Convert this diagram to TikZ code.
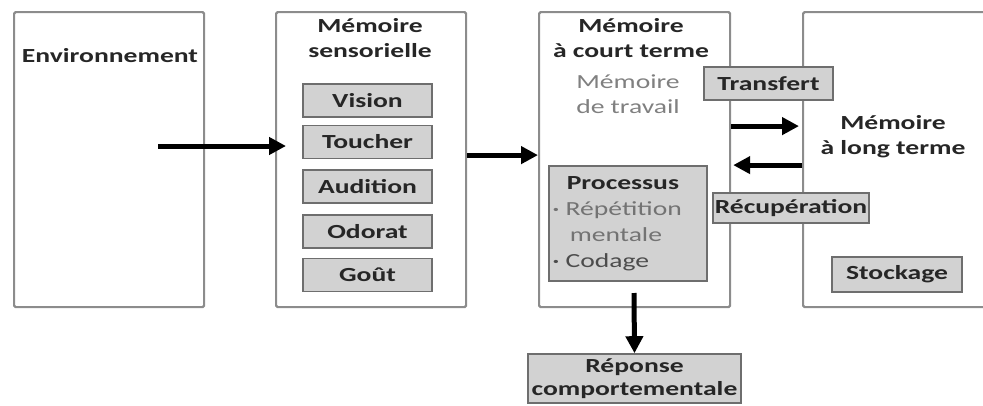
\documentclass[tikz,border=0pt]{standalone}
\usepackage{fontspec}
\setmainfont{Carlito}[FakeStretch=1.38]
\usetikzlibrary{arrows.meta}

\newcommand\txt{\fontsize{20}{25}\selectfont}
\newcommand\puce{\raisebox{3pt}{\fontsize{9}{9}\selectfont\textbullet}}
\definecolor{cadre}{HTML}{8C8C8C}
\definecolor{bord}{HTML}{6E6E6E}
\definecolor{fond}{HTML}{D2D2D2}

\tikzset{
  panel/.style={draw=cadre, line width=2.2pt, rounded corners=1.5pt, anchor=north west,
    minimum width=190pt, minimum height=295pt, inner sep=0pt},
  grisbox/.style={draw=bord, fill=fond, line width=1.6pt, minimum height=33pt,
    inner sep=0pt, font=\txt\bfseries, text=black!85},
  titre/.style={font=\txt\bfseries, align=center, text=black!85, inner sep=0pt},
  fleche/.style={line width=5pt, -{Triangle[length=17pt,width=17pt]}},
}

\begin{document}
\begin{tikzpicture}[x=1pt,y=-1pt]
\useasboundingbox (0,0) rectangle (983,405);
% panneaux
\node[panel] (env) at (13,11) {};
\node[panel] (sens) at (275,11) {};
\node[panel, minimum width=191pt] (mct) at (538,11) {};
\node[panel, minimum width=230pt] (mlt) at (802,11) {};

% titres
\node[titre] (envtxt) at (110,56) {Environnement};
\node[titre] (senstxt) at (370,38) {Mémoire\\sensorielle};
\node[titre] (mcttxt) at (631,38) {Mémoire\\à court terme};
\node[titre, font=\txt, text=gray] (travail) at (628,94) {Mémoire\\de travail};
\node[titre] (mlttxt) at (893,137) {Mémoire\\à long terme};

% sens
\foreach \nom/\y [count=\i] in {Vision/100.5, Toucher/142, Audition/186.5, Odorat/231.5, Goût/275}
  \node[grisbox, minimum width=129pt] (s\i) at (367.5,\y) {\nom};

% processus
\node[grisbox, anchor=north west, minimum width=158pt, minimum height=115pt,
  text width=150pt, align=left, inner sep=4pt, font=\fontsize{20}{26}\selectfont] (proc) at (548,165)
  {\hspace*{14pt}\textbf{Processus}\\
   {\color{black!55}\puce\ Répétition}\\
   {\color{black!55}\hspace*{17pt}mentale}\\
   {\color{black!70}\puce\ Codage}};

\node[grisbox, minimum width=129pt] (transfert) at (768.5,83.5) {Transfert};
\node[grisbox, minimum width=156pt, minimum height=30pt] (recup) at (791,208) {Récupération};
\node[grisbox, minimum width=130pt, minimum height=35pt] (stock) at (897,274.5) {Stockage};
\node[grisbox, minimum width=213pt, minimum height=49pt, align=center,
  font=\fontsize{20}{23}\selectfont\bfseries] (rep) at (634.5,378.5) {Réponse\\comportementale};

% fleches
\coordinate (envout) at (158,146);
\draw[fleche] (envout) -- ([xshift=11pt]envout -| sens.west);
\draw[fleche] ([yshift=4.5pt]sens.east) -- ([yshift=4.5pt]mct.west);
\draw[fleche, shorten >=3pt] ([yshift=33.5pt]mct.east) -- ([yshift=33.5pt]mlt.west);
\draw[fleche] ([yshift=-5.5pt]mlt.west) -- ([yshift=-5.5pt,xshift=2pt]mct.east);
\coordinate (procout) at (634,293);
\draw[fleche] (procout) -- (rep.north);
\end{tikzpicture}
\end{document}
